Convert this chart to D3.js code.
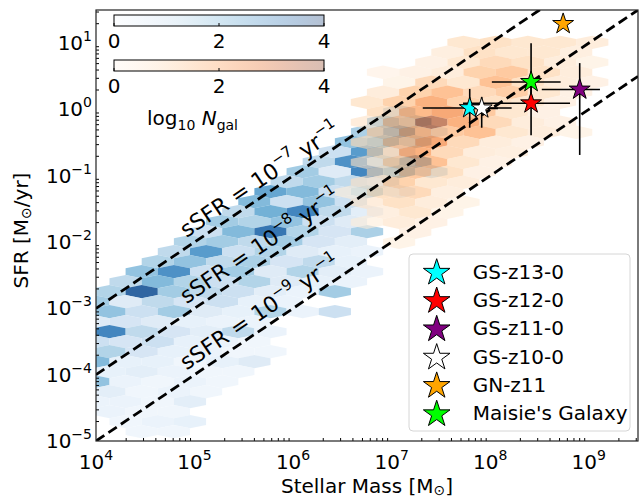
<!DOCTYPE html>
<html>
<head>
<meta charset="utf-8">
<script src="https://cdn.jsdelivr.net/npm/d3@7"></script>
<style>
  body { margin: 0; background: #fff; }
  text { font-family: "DejaVu Sans", sans-serif; fill: #000; }
</style>
</head>
<body>
<div id="chart"></div>
<script>
// ---- data ----
const massDomain = [1e4, Math.pow(10, 9.5)];
const sfrDomain = [1e-5, Math.pow(10, 1.5)];
const xTickPowers = [4, 5, 6, 7, 8, 9];
const yTickPowers = [-5, -4, -3, -2, -1, 0, 1];
const ssfrPowers = [-7, -8, -9];
const cbarTicks = [0, 2, 4];

// hexbin grids (log10 units): bin step in mass, row step in SFR
const hexStepM = 0.3267;
const hexStepSfr = 0.1508;
const blueOrigin = [4.4637, -2.748];
const orangeOrigin = [7.729, 1.013];

// rows: [row index, first column, log10 N per bin]
const blueRows = [
  [18, 8, [1.2]],
  [17, 7, [2.0, 1.5]],
  [16, 7, [1.5, 2.6, 1.0]],
  [15, 6, [1.8, 2.2, 1.5]],
  [14, 6, [1.0, 2.6, 0.8]],
  [13, 5, [1.2, 2.8, 1.4, 2.4]],
  [12, 5, [1.6, 0.6, 3.0, 2.2, 1.2]],
  [11, 4, [1.2, 1.6, 1.2, 1.0]],
  [10, 4, [2.4, 2.0, 1.0, 1.6, 0.6]],
  [9, 3, [2.0, 1.0, 1.8, 1.0]],
  [8, 3, [1.2, 2.2, 3.0, 1.2, 0.5]],
  [7, 2, [1.6, 1.4, 1.8, 1.0, 0.6]],
  [6, 2, [1.0, 2.0, 3.3, 1.4, 0.8, 1.5]],
  [5, 1, [1.4, 1.6, 1.2, 1.6, 0.8, 0.5]],
  [4, 1, [1.2, 2.6, 1.0, 1.4, 0.6, 0.4, 0.3]],
  [3, 0, [1.4, 1.8, 1.2, 1.5, 0.8, 1.2, 0.4]],
  [2, 0, [1.8, 2.8, 1.0, 1.6, 0.6, 1.4, 0.5, 0.3]],
  [1, -1, [1.2, 2.0, 1.4, 1.0, 1.4, 0.6, 0.4, 0.3]],
  [0, -1, [1.4, 3.6, 1.6, 1.2, 1.0, 0.5, 0.3, 1.6]],
  [-1, -2, [1.6, 0.6, 1.2, 0.8, 1.0, 0.4, 0.3]],
  [-2, -1, [1.8, 1.0, 1.6, 0.6, 0.4, 1.4, 0.3, 1.0]],
  [-3, -2, [0.6, 0.8, 0.6, 0.4, 0.3, 0.3]],
  [-4, -1, [3.0, 1.2, 0.8, 0.5, 1.2, 0.3]],
  [-5, -2, [1.0, 0.8, 1.0, 0.4, 0.3, 0.2]],
  [-6, -1, [1.4, 0.8, 0.4, 0.3, 0.2, 0.2]],
  [-7, -2, [2.0, 0.4, 0.4, 0.2, 0.4, 0.6]],
  [-8, -1, [0.4, 0.5, 0.3, 0.2, 0.2]],
  [-9, -2, [1.8, 0.3, 0.2, 0.3, 0.2]],
  [-10, -1, [0.5, 0.2, 0.3, 0.2]],
  [-11, -2, [0.3, 0.3, 0.2, 0.5]],
  [-12, -1, [0.3, 0.2, 0.2]],
  [-13, -1, [0.2, 0.3, 0.4]],
  [-14, 0, [0.2, 0.2]]
];

const orangeRows = [
  [0, 0, [0.8, 1.0, 0.8, 0.8, 0.6]],
  [-1, -1, [0.5, 1.0, 0.8, 0.8, 0.5]],
  [-2, -1, [0.4, 0.8, 1.2, 1.0, 0.6, 0.3]],
  [-3, -3, [0.2, 0.4, 0.6, 1.4, 1.6, 1.0, 0.6]],
  [-4, -2, [0.3, 1.2, 0.8, 1.8, 1.0, 0.6, 0.4]],
  [-5, -3, [0.6, 1.4, 1.8, 1.2, 1.5, 0.8, 0.4]],
  [-6, -3, [0.8, 1.4, 2.2, 1.4, 1.0, 0.8, 0.4]],
  [-7, -3, [1.0, 2.0, 2.4, 1.6, 0.8, 0.4]],
  [-8, -3, [0.6, 1.6, 3.6, 2.2, 1.2, 0.6, 0.4]],
  [-9, -3, [1.2, 2.0, 1.6, 1.8, 0.8, 0.6, 0.3]],
  [-10, -3, [0.8, 1.6, 2.4, 1.2, 0.6, 0.4]],
  [-11, -3, [1.0, 2.2, 1.2, 0.6, 0.5]],
  [-12, -3, [0.6, 1.4, 1.8, 0.8, 0.4]],
  [-13, -3, [0.8, 1.6, 1.0, 0.4]],
  [-14, -3, [0.6, 1.4, 0.8, 0.6]],
  [-15, -4, [0.3, 1.0, 1.2, 0.5]],
  [-16, -3, [0.6, 1.0, 0.6, 0.3]],
  [-17, -3, [0.5, 0.8, 0.3]],
  [-18, -3, [0.3, 0.6, 0.4]],
  [-19, -2, [0.4]],
  [-20, -2, [0.3]]
];

const galaxyNames = ["GS-z13-0", "GS-z12-0", "GS-z11-0", "GS-z10-0", "GN-z11", "Maisie's Galaxy"];
const galaxyColors = ["#00ffff", "#ff0000", "#800080", "#ffffff", "#ffa500", "#00ff00"];
const galaxyMass = [6.2e7, 2.6e8, 8.1e8, 8.2e7, 5.5e8, 2.6e8];
const galaxyMassLo = [2.07e7, 5.3e7, 3.34e8, 5.5e7, null, 1.04e8];
const galaxyMassHi = [1.65e8, 6.46e8, 1.3e9, 1.2e8, null, 5.19e8];
const galaxySfr = [1.05, 1.24, 2.0, 1.04, 19.5, 2.6];
const galaxySfrLo = [0.53, 0.41, 0.206, 0.53, null, 1.3];
const galaxySfrHi = [2.04, 3.5, 5.0, 1.55, null, 10.0];

// ---- layout ----
const width = 639, height = 500;
const plot = { left: 96, right: 638, top: 10, bottom: 441 };

const svg = d3.select("#chart").append("svg")
  .attr("width", width)
  .attr("height", height);

const x = d3.scaleLog().domain(massDomain).range([plot.left, plot.right]);
const y = d3.scaleLog().domain(sfrDomain).range([plot.bottom, plot.top]);

svg.append("clipPath").attr("id", "plotclip")
  .append("rect")
  .attr("x", plot.left).attr("y", plot.top)
  .attr("width", plot.right - plot.left).attr("height", plot.bottom - plot.top);

const body = svg.append("g").attr("clip-path", "url(#plotclip)");

// hexbin cells
const cellsFrom = (rows, origin) => {
  const cells = [];
  rows.forEach(([k, c0, vals]) => {
    const odd = ((k % 2) + 2) % 2;
    vals.forEach((v, i) => {
      const c = c0 + i;
      cells.push({
        logM: origin[0] + (c + odd * 0.5) * hexStepM,
        logS: origin[1] + k * hexStepSfr,
        v: v
      });
    });
  });
  return cells;
};

const hexPoints = d => {
  const cx = x(Math.pow(10, d.logM));
  const cy = y(Math.pow(10, d.logS));
  const w = x(Math.pow(10, d.logM + hexStepM / 2)) - cx;
  const p = cy - y(Math.pow(10, d.logS + hexStepSfr));
  const h1 = p / 3, h2 = 2 * p / 3;
  return [[cx + w, cy - h1], [cx + w, cy + h1], [cx, cy + h2],
          [cx - w, cy + h1], [cx - w, cy - h1], [cx, cy - h2]].join(" ");
};

const blueColor = v => d3.interpolateBlues(v / 4);
const orangeColor = v => d3.interpolateOranges(v / 4);

body.append("g").selectAll("polygon")
  .data(cellsFrom(blueRows, blueOrigin))
  .join("polygon")
  .attr("points", hexPoints)
  .attr("fill", d => blueColor(d.v))
  .attr("fill-opacity", 0.85);

body.append("g").selectAll("polygon")
  .data(cellsFrom(orangeRows, orangeOrigin))
  .join("polygon")
  .attr("points", hexPoints)
  .attr("fill", d => orangeColor(d.v))
  .attr("fill-opacity", 0.6);

// constant sSFR lines
const lineGen = d3.line().x(d => x(d[0])).y(d => y(d[1]));
ssfrPowers.forEach(s => {
  const pts = massDomain.map(m => [m, m * Math.pow(10, s)]);
  body.append("path")
    .attr("d", lineGen(pts))
    .attr("fill", "none")
    .attr("stroke", "#000")
    .attr("stroke-width", 2.8)
    .attr("stroke-dasharray", "10,5");
});

// slope of a constant-sSFR line in pixels
const angle = Math.atan2(y(1e-2) - y(1e-3), x(1e5) - x(1e4)) * 180 / Math.PI;
const fmtPow = p => (p < 0 ? "\u2212" + Math.abs(p) : String(p));

ssfrPowers.forEach(s => {
  const m = Math.pow(10, 5.75);
  const px = x(m), py = y(m * Math.pow(10, s));
  const t = svg.append("text")
    .attr("transform", `translate(${px},${py}) rotate(${angle}) translate(0,-8)`)
    .attr("text-anchor", "middle")
    .attr("font-size", 22);
  t.append("tspan").text("sSFR = 10");
  t.append("tspan").attr("dy", -10).attr("font-size", 15).text(fmtPow(s));
  t.append("tspan").attr("dy", 10).text("\u00a0yr");
  t.append("tspan").attr("dy", -10).attr("font-size", 15).text("\u22121");
});

// error bars and stars
const starPath = R => {
  const r = R * 0.382;
  const pts = d3.range(10).map(i => {
    const a = -Math.PI / 2 + i * Math.PI / 5;
    const rr = i % 2 ? r : R;
    return [rr * Math.cos(a), rr * Math.sin(a)];
  });
  return "M" + pts.join("L") + "Z";
};

const gal = svg.append("g");
galaxyNames.forEach((name, i) => {
  const gx = x(galaxyMass[i]), gy = y(galaxySfr[i]);
  if (galaxyMassLo[i] !== null) {
    gal.append("line")
      .attr("x1", x(galaxyMassLo[i])).attr("x2", x(galaxyMassHi[i]))
      .attr("y1", gy).attr("y2", gy)
      .attr("stroke", "#000").attr("stroke-width", 1.6);
    gal.append("line")
      .attr("x1", gx).attr("x2", gx)
      .attr("y1", y(galaxySfrLo[i])).attr("y2", y(galaxySfrHi[i]))
      .attr("stroke", "#000").attr("stroke-width", 1.6);
  }
});
galaxyNames.forEach((name, i) => {
  gal.append("path")
    .attr("d", starPath(11))
    .attr("transform", `translate(${x(galaxyMass[i])},${y(galaxySfr[i])})`)
    .attr("fill", galaxyColors[i])
    .attr("stroke", "#000")
    .attr("stroke-width", 1);
});

// axes
const minorVals = (lo, hi) => {
  const out = [];
  for (let p = lo; p <= hi; p++) for (let m = 2; m <= 9; m++) out.push(m * Math.pow(10, p));
  return out;
};

const xAxisG = svg.append("g").attr("transform", `translate(0,${plot.bottom})`);
xAxisG.call(d3.axisBottom(x).tickValues(xTickPowers.map(p => Math.pow(10, p))).tickSize(-6).tickFormat(""));
xAxisG.call(d3.axisBottom(x).tickValues(minorVals(4, 9).filter(v => v <= massDomain[1])).tickSize(-3).tickFormat(""));
const yAxisG = svg.append("g").attr("transform", `translate(${plot.left},0)`);
yAxisG.call(d3.axisLeft(y).tickValues(yTickPowers.map(p => Math.pow(10, p))).tickSize(-6).tickFormat(""));
yAxisG.call(d3.axisLeft(y).tickValues(minorVals(-5, 1).filter(v => v <= sfrDomain[1])).tickSize(-3).tickFormat(""));
svg.selectAll(".domain").remove();
svg.selectAll(".tick line").attr("stroke", "#000").attr("stroke-width", 1);

svg.append("rect")
  .attr("x", plot.left).attr("y", plot.top)
  .attr("width", plot.right - plot.left).attr("height", plot.bottom - plot.top)
  .attr("fill", "none").attr("stroke", "#222").attr("stroke-width", 1.2);

xTickPowers.forEach(p => {
  const t = svg.append("text")
    .attr("x", x(Math.pow(10, p))).attr("y", 469)
    .attr("text-anchor", "middle").attr("font-size", 20);
  t.append("tspan").text("10");
  t.append("tspan").attr("dy", -9).attr("font-size", 14).text(fmtPow(p));
});
yTickPowers.forEach(p => {
  const t = svg.append("text")
    .attr("x", plot.left - 4).attr("y", y(Math.pow(10, p)) + 7)
    .attr("text-anchor", "end").attr("font-size", 20);
  t.append("tspan").text("10");
  t.append("tspan").attr("dy", -9).attr("font-size", 14).text(fmtPow(p));
});

const xl = svg.append("text")
  .attr("x", (plot.left + plot.right) / 2).attr("y", 493)
  .attr("text-anchor", "middle").attr("font-size", 20);
xl.append("tspan").text("Stellar Mass [M");
xl.append("tspan").attr("dy", 2).attr("font-size", 14).text("\u2299");
xl.append("tspan").attr("dy", -2).text("]");

const yl = svg.append("text")
  .attr("transform", `translate(28,${(plot.top + plot.bottom) / 2 + 5}) rotate(-90)`)
  .attr("text-anchor", "middle").attr("font-size", 20);
yl.append("tspan").text("SFR [M");
yl.append("tspan").attr("dy", 3).attr("font-size", 14).text("\u2299");
yl.append("tspan").attr("dy", -3).text("/yr]");

// legend
const leg = svg.append("g");
leg.append("rect")
  .attr("x", 409).attr("y", 254).attr("width", 221).attr("height", 177)
  .attr("rx", 4)
  .attr("fill", "#fff").attr("fill-opacity", 0.8)
  .attr("stroke", "#d6d6d6").attr("stroke-width", 1);
galaxyNames.forEach((name, i) => {
  const ly = 271.7 + i * 28.3;
  leg.append("path")
    .attr("d", starPath(14))
    .attr("transform", `translate(436.7,${ly + 1})`)
    .attr("fill", galaxyColors[i])
    .attr("stroke", "#000").attr("stroke-width", 1);
  leg.append("text")
    .attr("x", 472.7).attr("y", ly + 7)
    .attr("font-size", 20)
    .text(name);
});

// colorbars
const cbX = d3.scaleLinear().domain([0, 4]).range([114, 324]);
const defs = svg.append("defs");
const makeGrad = (id, interp) => {
  const g = defs.append("linearGradient").attr("id", id);
  d3.range(0, 1.0001, 0.1).forEach(t => {
    g.append("stop").attr("offset", t).attr("stop-color", interp(t));
  });
};
makeGrad("gradBlue", d3.interpolateBlues);
makeGrad("gradOrange", d3.interpolateOranges);

[["gradBlue", 15, 48], ["gradOrange", 60, 93]].forEach(([id, top, labelY]) => {
  svg.append("rect")
    .attr("x", cbX(0)).attr("y", top)
    .attr("width", cbX(4) - cbX(0)).attr("height", 11)
    .attr("fill", `url(#${id})`).attr("fill-opacity", 0.3);
  svg.append("rect")
    .attr("x", cbX(0)).attr("y", top)
    .attr("width", cbX(4) - cbX(0)).attr("height", 11)
    .attr("fill", "none").attr("stroke", "#000").attr("stroke-width", 1);
  cbarTicks.forEach(v => {
    svg.append("line")
      .attr("x1", cbX(v)).attr("x2", cbX(v))
      .attr("y1", top + 11).attr("y2", top + 8)
      .attr("stroke", "#000");
    svg.append("text")
      .attr("x", cbX(v)).attr("y", labelY)
      .attr("text-anchor", "middle").attr("font-size", 20)
      .text(v);
  });
});

const cbl = svg.append("text").attr("x", 147).attr("y", 125).attr("font-size", 20);
cbl.append("tspan").text("log");
cbl.append("tspan").attr("dy", 5).attr("font-size", 14).text("10");
cbl.append("tspan").attr("dy", -5).attr("font-style", "italic").text("\u00a0N");
cbl.append("tspan").attr("dy", 5).attr("font-size", 14).text("gal");
</script>
</body>
</html>
